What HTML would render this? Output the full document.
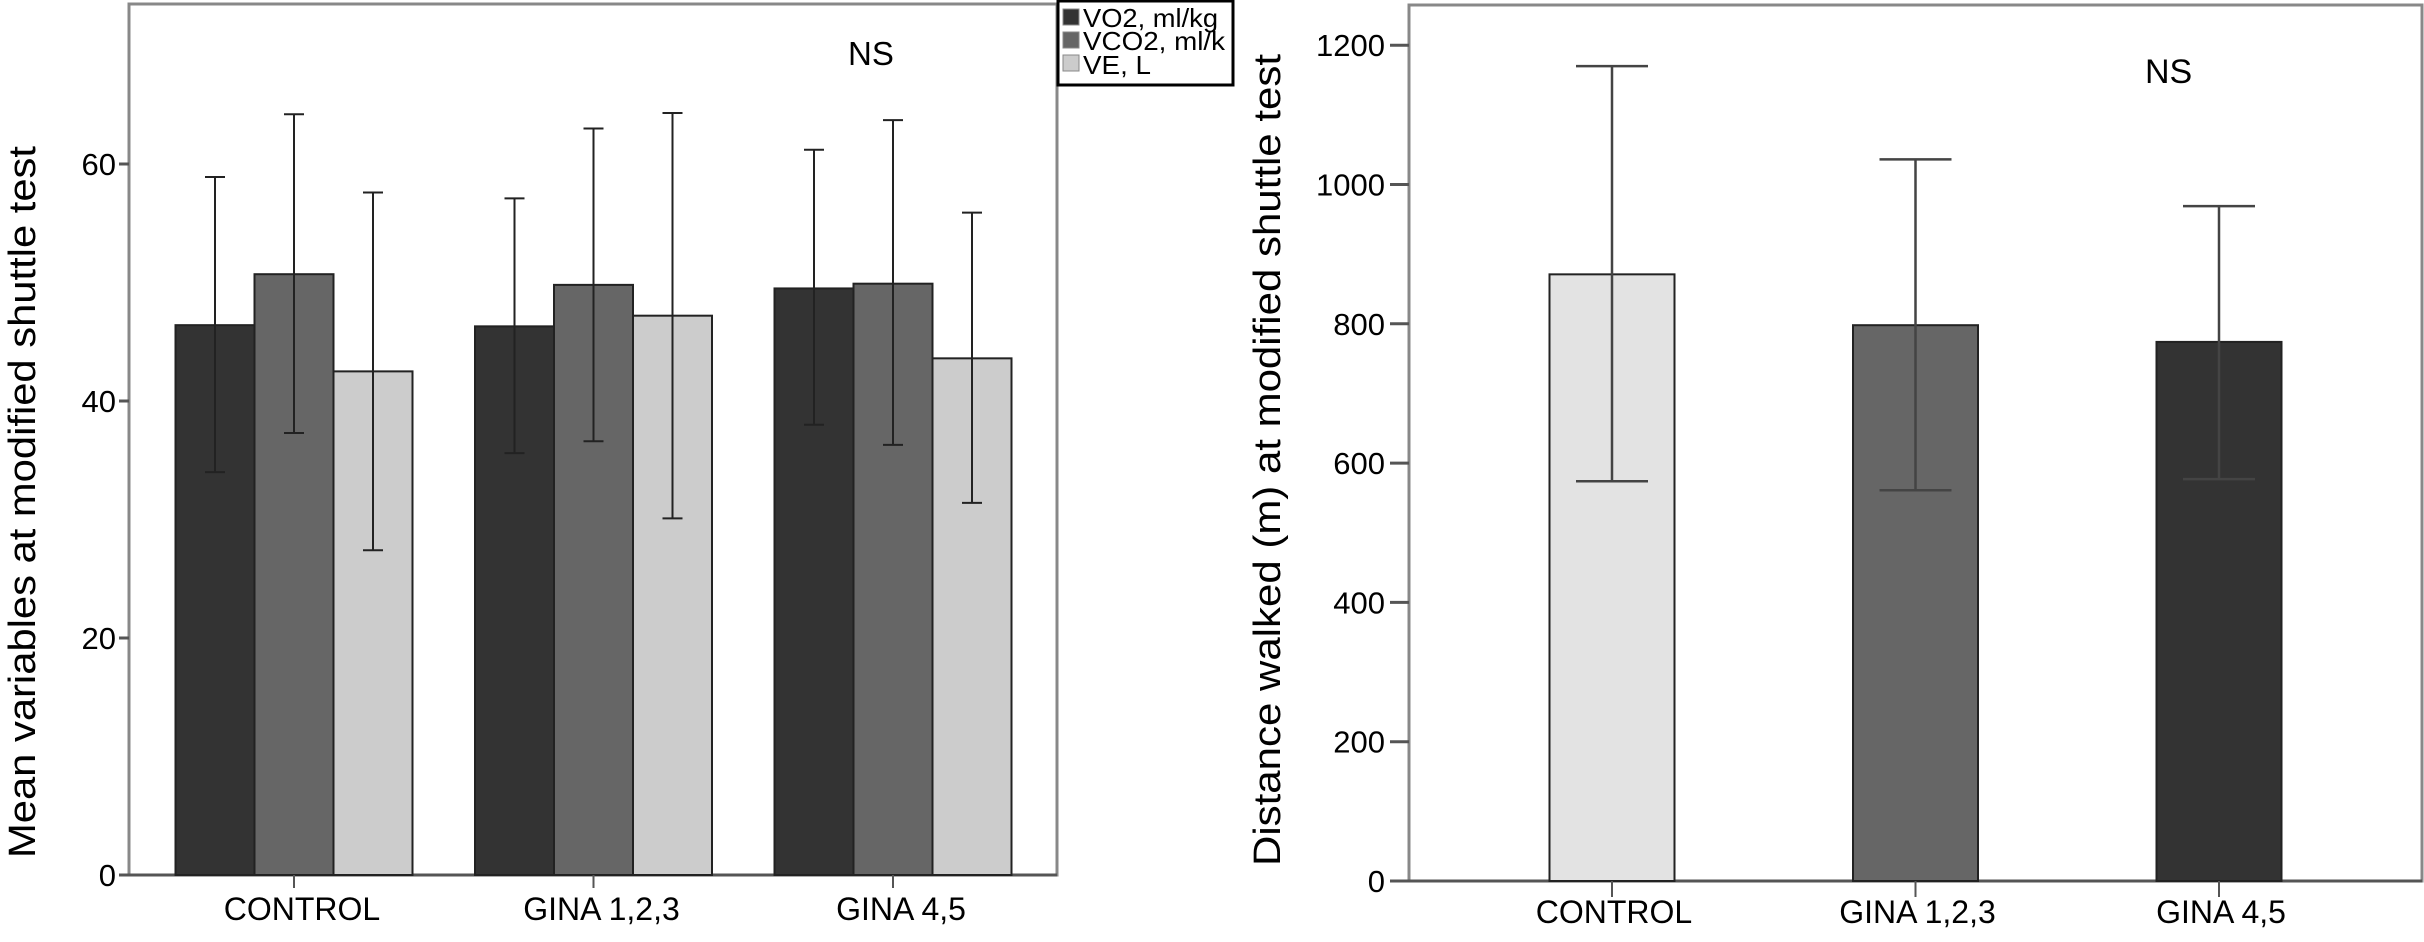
<!DOCTYPE html>
<html><head><meta charset="utf-8"><style>
html,body{margin:0;padding:0;background:#fff}
svg{display:block}
text{font-family:"Liberation Sans Narrow","Liberation Sans",sans-serif;fill:#000}
.t{font-family:"Liberation Sans",sans-serif}
</style></head><body>
<svg id="s" width="2424" height="942" viewBox="0 0 2424 942" xmlns="http://www.w3.org/2000/svg">
<rect x="129" y="4" width="928" height="871" fill="none" stroke="#888" stroke-width="3"/>
<rect x="1409" y="5" width="1013" height="876" fill="none" stroke="#888" stroke-width="3"/>
<g id="L"></g><g id="R"></g>
<text class="t" transform="translate(35,502) rotate(-90)" text-anchor="middle" font-size="38" textLength="712" lengthAdjust="spacingAndGlyphs">Mean variables at modified shuttle test</text>
<text class="t" transform="translate(1280,460) rotate(-90)" text-anchor="middle" font-size="38" textLength="812" lengthAdjust="spacingAndGlyphs">Distance walked (m) at modified shuttle test</text>
<text x="848" y="65" font-size="33">NS</text>
<text x="2145" y="83" font-size="34">NS</text>
<g>
<rect x="1058" y="1" width="175" height="84" fill="#fff" stroke="#000" stroke-width="3"/>
<rect x="1063" y="9" width="16" height="16" fill="#333" stroke="#888"/>
<text x="1083" y="27" font-size="26" textLength="135" lengthAdjust="spacingAndGlyphs">VO2, ml/kg</text>
<rect x="1063" y="32" width="16" height="16" fill="#666" stroke="#888"/>
<text x="1083" y="50" font-size="26" textLength="142" lengthAdjust="spacingAndGlyphs">VCO2, ml/k</text>
<rect x="1063" y="55" width="16" height="16" fill="#ccc" stroke="#888"/>
<text x="1083" y="74" font-size="26" textLength="68" lengthAdjust="spacingAndGlyphs">VE, L</text>
</g>
</svg>
<script>
const groups=["CONTROL","GINA 1,2,3","GINA 4,5"];
const seriesNames=["VO2, ml/kg","VCO2, ml/k","VE, L"];
const vo2=[46.4,46.3,49.5], vo2Hi=[58.9,57.1,61.2], vo2Lo=[34.0,35.6,38.0];
const vco2=[50.7,49.8,49.9], vco2Hi=[64.2,63.0,63.7], vco2Lo=[37.3,36.6,36.3];
const ve=[42.5,47.2,43.6], veHi=[57.6,64.3,55.9], veLo=[27.4,30.1,31.4];
const leftTicks=[0,20,40,60];
const distance=[871,798,774], distHi=[1170,1036,969], distLo=[574,561,577];
const rightTicks=[0,200,400,600,800,1000,1200];

const NS="http://www.w3.org/2000/svg";
function mk(p,tag,a){const e=document.createElementNS(NS,tag);for(const k in a)e.setAttribute(k,a[k]);p.appendChild(e);return e;}
const L=document.getElementById('L'),R=document.getElementById('R');
const yL=v=>875-v*11.85;
const xG=i=>294+i*299.5;
const bw=79;
mk(L,'line',{x1:129,y1:875,x2:1057,y2:875,stroke:'#555','stroke-width':3});
leftTicks.forEach(t=>{
 const l=mk(L,'line',{x1:119,y1:yL(t),x2:129,y2:yL(t),stroke:'#555','stroke-width':3});
 
 
 const tx=mk(L,'text',{x:116,y:yL(t)+11,'text-anchor':'end','font-size':31});
 tx.textContent=t;
 
 
});
const series=[[vo2,vo2Hi,vo2Lo,'#333','vo2'],[vco2,vco2Hi,vco2Lo,'#666','vco2'],[ve,veHi,veLo,'#ccc','ve']];
groups.forEach((g,i)=>{
 series.forEach((s,j)=>{
  const x=xG(i)-1.5*bw+j*bw;
  const r=mk(L,'rect',{x:x,y:yL(s[0][i]),width:bw,height:yL(0)-yL(s[0][i]),fill:s[3],stroke:'#222','stroke-width':2});
  
  
  const cx=x+bw/2;
  const e=mk(L,'path',{d:`M${cx},${yL(s[1][i])}V${yL(s[2][i])}M${cx-10},${yL(s[1][i])}h20M${cx-10},${yL(s[2][i])}h20`,stroke:'#222','stroke-width':2,fill:'none'});
  
  
 });
 mk(L,'line',{x1:xG(i),y1:875,x2:xG(i),y2:888,stroke:'#555','stroke-width':2});
 const t=mk(L,'text',{x:xG(i)+8,y:920,'text-anchor':'middle','font-size':32});
 t.textContent=g;
 
 
});
const yR=v=>881-v*0.6965;
const xR=i=>1612+i*303.5;
const rb=125;
const rc=['#e3e3e3','#666','#333'];
mk(R,'line',{x1:1409,y1:881,x2:2422,y2:881,stroke:'#555','stroke-width':3});
rightTicks.forEach(t=>{
 const l=mk(R,'line',{x1:1390,y1:yR(t),x2:1409,y2:yR(t),stroke:'#555','stroke-width':3});
 
 
 const tx=mk(R,'text',{x:1385,y:yR(t)+11,'text-anchor':'end','font-size':31});
 tx.textContent=t;
 
 
});
groups.forEach((g,i)=>{
 const x=xR(i)-rb/2;
 const r=mk(R,'rect',{x:x,y:yR(distance[i]),width:rb,height:yR(0)-yR(distance[i]),fill:rc[i],stroke:'#222','stroke-width':2});
 
 
 const cx=xR(i);
 const e=mk(R,'path',{d:`M${cx},${yR(distHi[i])}V${yR(distLo[i])}M${cx-36},${yR(distHi[i])}h72M${cx-36},${yR(distLo[i])}h72`,stroke:'#444','stroke-width':2.5,fill:'none'});
 
 
 mk(R,'line',{x1:cx,y1:881,x2:cx,y2:897,stroke:'#555','stroke-width':2});
 const t=mk(R,'text',{x:cx+2,y:923,'text-anchor':'middle','font-size':32});
 t.textContent=g;
 
 
});
</script>
</body></html>
